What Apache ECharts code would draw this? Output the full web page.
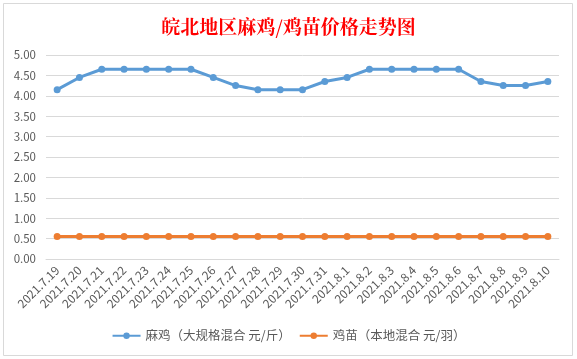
<!DOCTYPE html>
<html><head><meta charset="utf-8">
<script src="https://cdn.jsdelivr.net/npm/echarts@6/dist/echarts.min.js"></script>
<style>html,body{margin:0;padding:0;background:#fff;}#c{width:577px;height:359px;}</style>
</head><body><div id="c"></div>
<script>
const categories = ['2021.7.19','2021.7.20','2021.7.21','2021.7.22','2021.7.23','2021.7.24','2021.7.25','2021.7.26','2021.7.27','2021.7.28','2021.7.29','2021.7.30','2021.7.31','2021.8.1','2021.8.2','2021.8.3','2021.8.4','2021.8.5','2021.8.6','2021.8.7','2021.8.8','2021.8.9','2021.8.10'];
const maji = [4.15,4.45,4.65,4.65,4.65,4.65,4.65,4.45,4.25,4.15,4.15,4.15,4.35,4.45,4.65,4.65,4.65,4.65,4.65,4.35,4.25,4.25,4.35];
const jimiao = [0.55,0.55,0.55,0.55,0.55,0.55,0.55,0.55,0.55,0.55,0.55,0.55,0.55,0.55,0.55,0.55,0.55,0.55,0.55,0.55,0.55,0.55,0.55];
const seriesNames = ['麻鸡（大规格混合 元/斤）','鸡苗（本地混合 元/羽）'];
const chart = echarts.init(document.getElementById('c'));
const font = '"Microsoft YaHei","Noto Sans CJK SC","Noto Sans",sans-serif';
chart.setOption({
  animation:false,
  backgroundColor:'#fff',
  graphic:[{type:'rect',shape:{x:3.5,y:3.5,width:569,height:352},style:{fill:'none',stroke:'#d9d9d9',lineWidth:1},silent:true,z:-1}],
  title:{text:'皖北地区麻鸡/鸡苗价格走势图',left:'center',top:12,
    textStyle:{color:'#ff0000',fontSize:19,fontWeight:'bold',fontFamily:'"Noto Serif CJK SC","Noto Sans CJK SC",serif'}},
  legend:{bottom:12,left:'center',itemWidth:28,itemHeight:8,itemGap:8,
    textStyle:{color:'#595959',fontSize:12.5,fontFamily:font},data:seriesNames},
  grid:{left:46,right:18,top:55,bottom:100,containLabel:false},
  xAxis:{type:'category',data:categories,boundaryGap:true,
    axisLine:{lineStyle:{color:'#d9d9d9'}},axisTick:{show:false},
    axisLabel:{rotate:45,interval:0,color:'#595959',fontSize:12,fontFamily:font,margin:9}},
  yAxis:{type:'value',min:0,max:5,interval:0.5,
    axisLine:{show:false},axisTick:{show:false},
    splitLine:{lineStyle:{color:'#d9d9d9'}},
    axisLabel:{color:'#595959',fontSize:11.5,fontFamily:font,margin:10,formatter:v=>v.toFixed(2)}},
  series:[
    {name:seriesNames[0],type:'line',data:maji,symbol:'circle',symbolSize:7,
      lineStyle:{color:'#5b9bd5',width:3},itemStyle:{color:'#5b9bd5'}},
    {name:seriesNames[1],type:'line',data:jimiao,symbol:'circle',symbolSize:7,
      lineStyle:{color:'#ed7d31',width:3},itemStyle:{color:'#ed7d31'}}
  ]
});
</script></body></html>
